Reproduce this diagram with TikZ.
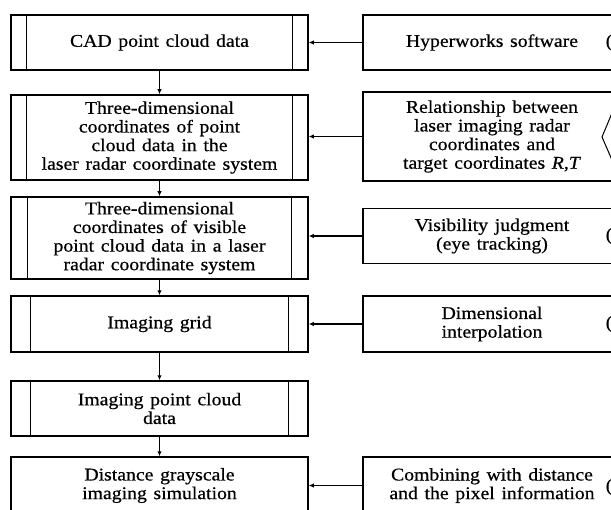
\documentclass[tikz,border=0pt]{standalone}
\usepackage{fontspec}
\setmainfont[FakeStretch=1.1,FakeBold=0.6,WordSpace=1.35]{Liberation Serif}
\usetikzlibrary{arrows.meta}

\begin{document}
\begin{tikzpicture}[x=1bp,y=-1bp,
    box/.style={draw,line width=1.5bp,inner sep=0pt,align=center,
      font=\fontsize{18}{18.7}\selectfont},
    lbox/.style={box,minimum width=297bp},
    rbox/.style={box,minimum width=258bp},
    bar/.style={line width=1.1bp},
    arr/.style={line width=1.1bp,-{Latex[length=5bp,width=4.5bp]}},
    tag/.style={anchor=west,inner sep=0pt,font=\fontsize{18}{18.7}\selectfont}]
  \useasboundingbox (0,0) rectangle (611,510);
  \clip (0,0) rectangle (611,510);

  % main chain
  \node[lbox,minimum height=55bp] (cad) at (159.5,42.5) {CAD point cloud data};
  \node[lbox,minimum height=85bp] (lidar) at (159.5,137.5)
    {Three-dimensional\\coordinates of point\\cloud data in the\\laser radar coordinate system};
  \node[lbox,minimum height=82bp] (visible) at (159.5,238)
    {Three-dimensional\\coordinates of visible\\point cloud data in a laser\\radar coordinate system};
  \node[lbox,minimum height=56bp] (grid) at (159.5,324) {Imaging grid};
  \node[lbox,minimum height=55bp] (imgpts) at (159.5,408.5) {Imaging point cloud\\data};
  \node[lbox,minimum height=57bp] (gray) at (159.5,485.5) {Distance grayscale\\imaging simulation};

  % side bars of the process boxes
  \draw[bar] ([xshift=16bp]cad.north west) -- ([xshift=16bp]cad.south west);
  \draw[bar] ([xshift=-16bp]cad.north east) -- ([xshift=-16bp]cad.south east);
  \draw[bar] ([xshift=16bp]lidar.north west) -- ([xshift=16bp]lidar.south west);
  \draw[bar] ([xshift=-16bp]lidar.north east) -- ([xshift=-16bp]lidar.south east);
  \draw[bar] ([xshift=17bp]visible.north west) -- ([xshift=17bp]visible.south west);
  \draw[bar] ([xshift=-17bp]visible.north east) -- ([xshift=-17bp]visible.south east);
  \draw[bar] ([xshift=20bp]grid.north west) -- ([xshift=20bp]grid.south west);
  \draw[bar] ([xshift=-20bp]grid.north east) -- ([xshift=-20bp]grid.south east);
  \draw[bar] ([xshift=20bp]imgpts.north west) -- ([xshift=20bp]imgpts.south west);
  \draw[bar] ([xshift=-20bp]imgpts.north east) -- ([xshift=-20bp]imgpts.south east);

  \draw[arr] (cad) -- (lidar);
  \draw[arr] (lidar) -- (visible);
  \draw[arr] (visible) -- (grid);
  \draw[arr] (grid) -- (imgpts);
  \draw[arr] (imgpts) -- (gray);

  % inputs on the right
  \node[rbox,minimum height=55bp] (hyper) at (492,42.5) {Hyperworks software};
  \node[rbox,minimum height=89bp] (relation) at (492,136.5)
    {Relationship between\\laser imaging radar\\coordinates and\\target coordinates \textit{R},\textit{T}};
  \node[rbox,minimum height=55bp] (vis) at (492,236) {Visibility judgment\\(eye tracking)};
  \node[rbox,minimum height=56bp] (interp) at (492,324) {Dimensional\\interpolation};
  \node[rbox,minimum height=57bp] (pixel) at (492,485.5) {Combining with distance\\and the pixel information};

  \draw[arr] (hyper.west) -- (hyper.west -| cad.east);
  \draw[arr] (relation.west) -- (relation.west -| lidar.east);
  \draw[arr] (vis.west) -- (vis.west -| visible.east);
  \draw[arr] (interp.west) -- (interp.west -| grid.east);
  \draw[arr] (pixel.west) -- (pixel.west -| gray.east);

  % marks at the right border
  \node[tag] (t1) at (605.5,42.5) {(};
  \node[tag] (t3) at (605.5,236) {(};
  \node[tag] (t4) at (605.5,324) {(};
  \node[tag] (t6) at (605.5,487) {(};
  \draw[line width=1bp] (612,113) -- (602,137) -- (612,160);
\end{tikzpicture}
\end{document}
